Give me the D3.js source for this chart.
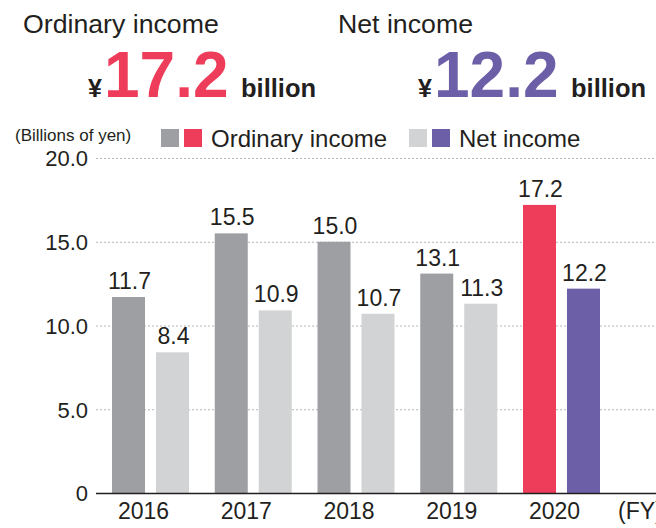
<!DOCTYPE html>
<html>
<head>
<meta charset="utf-8">
<script src="https://cdn.jsdelivr.net/npm/d3@7"></script>
<style>
html,body{margin:0;padding:0;background:#fff;}
svg{display:block;font-family:"Liberation Sans",Arial,sans-serif;}
</style>
</head>
<body>
<svg id="chart" width="656" height="528"></svg>
<script>
const years = ["2016","2017","2018","2019","2020"];
const ordinaryIncome = [11.7, 15.5, 15.0, 13.1, 17.2];
const netIncome = [8.4, 10.9, 10.7, 11.3, 12.2];
const yTicks = [0, 5, 10, 15, 20];
const yTickLabels = ["0", "5.0", "10.0", "15.0", "20.0"];
const seriesKeys = ["ordinary", "net"];
const seriesNames = ["Ordinary income", "Net income"];

const textColor = "#231f20";
const colors = {
  ordinary: {past: "#9d9fa2", current: "#ee3d5a"},
  net: {past: "#d1d3d4", current: "#6c5fa8"}
};

const svg = d3.select("#chart");

const y = d3.scaleLinear().domain([0, 20]).range([493, 158]);
const x0 = d3.scaleBand().domain(years).range([96, 96 + 5 * 102.75]).padding(0);
const x1 = d3.scaleBand().domain(seriesKeys).range([16, 93]).paddingInner(0.25).paddingOuter(0);

// Header
svg.append("text").attr("x", 23).attr("y", 33).attr("font-size", 26.7).attr("fill", textColor).text("Ordinary income");
svg.append("text").attr("x", 338).attr("y", 33).attr("font-size", 26.7).attr("fill", textColor).text("Net income");

function headline(xYen, xNum, xBil, value, color) {
  svg.append("text").attr("x", xYen).attr("y", 97).attr("font-size", 25).attr("font-weight", "bold").attr("fill", textColor).text("¥");
  svg.append("text").attr("x", xNum).attr("y", 97).attr("font-size", 64).attr("font-weight", "bold").attr("fill", color).text(value.toFixed(1));
  svg.append("text").attr("x", xBil).attr("y", 97).attr("font-size", 25.5).attr("font-weight", "bold").attr("fill", textColor).text("billion");
}
headline(88, 104, 241, ordinaryIncome[4], colors.ordinary.current);
headline(418, 434, 571, netIncome[4], colors.net.current);

// Unit label
svg.append("text").attr("x", 15).attr("y", 141).attr("font-size", 17).attr("fill", textColor).text("(Billions of yen)");

// Legend
const legend = [
  {x: 161, tx: 211, key: "ordinary", name: seriesNames[0]},
  {x: 409, tx: 459, key: "net", name: seriesNames[1]}
];
legend.forEach(l => {
  svg.append("rect").attr("x", l.x).attr("y", 129).attr("width", 18).attr("height", 18).attr("fill", colors[l.key].past);
  svg.append("rect").attr("x", l.x + 23).attr("y", 129).attr("width", 18).attr("height", 18).attr("fill", colors[l.key].current);
  svg.append("text").attr("x", l.tx).attr("y", 147).attr("font-size", 24).attr("fill", textColor).text(l.name);
});

// Gridlines
svg.append("g").selectAll("line").data(yTicks.filter(d => d > 0)).join("line")
  .attr("x1", 96).attr("x2", 656)
  .attr("y1", d => y(d) + 0.5).attr("y2", d => y(d) + 0.5)
  .attr("stroke", "#b5b5b5").attr("stroke-width", 1).attr("stroke-dasharray", "2,2");

// Y axis labels
const yAxis = d3.axisLeft(y).tickValues(yTicks).tickFormat((d, i) => yTickLabels[i]).tickSize(0).tickPadding(0);
const yg = svg.append("g").attr("transform", "translate(88,0)").call(yAxis);
yg.select(".domain").remove();
yg.selectAll("text").attr("font-size", 22).attr("fill", textColor).attr("font-family", "Liberation Sans, Arial, sans-serif").attr("dy", "0.36em");

// Bars
const data = years.map((yr, i) => ({year: yr, idx: i, values: [
  {key: "ordinary", value: ordinaryIncome[i]},
  {key: "net", value: netIncome[i]}
]}));

const groups = svg.append("g").selectAll("g").data(data).join("g")
  .attr("transform", d => `translate(${x0(d.year)},0)`);

groups.selectAll("rect").data(d => d.values.map(v => ({...v, current: d.idx === years.length - 1}))).join("rect")
  .attr("x", d => x1(d.key))
  .attr("y", d => y(d.value))
  .attr("width", x1.bandwidth())
  .attr("height", d => y(0) - y(d.value))
  .attr("fill", d => d.current ? colors[d.key].current : colors[d.key].past);

groups.selectAll("text.val").data(d => d.values).join("text")
  .attr("class", "val")
  .attr("x", d => x1(d.key) + x1.bandwidth() / 2 + 1)
  .attr("y", d => y(d.value) - 8)
  .attr("text-anchor", "middle")
  .attr("font-size", 23)
  .attr("fill", textColor)
  .text(d => d.value.toFixed(1));

// X axis
svg.append("line").attr("x1", 96).attr("x2", 656).attr("y1", 493.5).attr("y2", 493.5)
  .attr("stroke", textColor).attr("stroke-width", 1.5);

const xg = svg.append("g").attr("transform", "translate(-3.5,0)");
xg.selectAll("text").data(years).join("text")
  .attr("x", d => x0(d) + 51)
  .attr("y", 519)
  .attr("text-anchor", "middle")
  .attr("font-size", 23)
  .attr("fill", textColor)
  .text(d => d);

svg.append("text").attr("x", 618).attr("y", 519).attr("font-size", 23).attr("fill", textColor).text("(FY)");
</script>
</body>
</html>
